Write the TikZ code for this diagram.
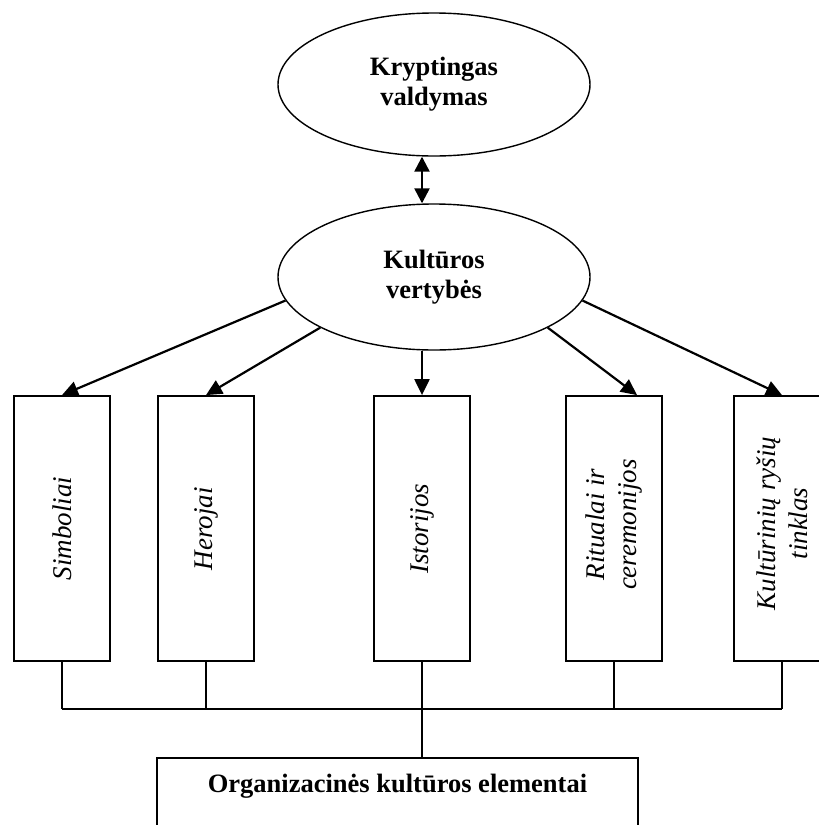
\documentclass[tikz,border=0pt]{standalone}
\usepackage{fontspec}
\setmainfont{Liberation Serif}
\usetikzlibrary{arrows.meta,shapes.geometric}

\begin{document}
\begin{tikzpicture}[x=1pt,y=-1pt,
	oval/.style={ellipse,draw,line width=1.4pt,minimum width=312pt,inner sep=0pt,align=center,font=\fontsize{26.5}{30}\selectfont\bfseries},
	elbox/.style={draw,line width=1.8pt,minimum width=96pt,minimum height=265pt,inner sep=0pt},
	eltext/.style={rotate=90,align=center,inner sep=0pt,font=\fontsize{27}{32}\selectfont\itshape},
	arr/.style={line width=2.2pt,-{Triangle[length=16pt,width=15pt]}},
	dblarr/.style={line width=2.4pt,{Triangle[length=15pt,width=15pt]}-{Triangle[length=15pt,width=15pt]}},
	bus/.style={line width=1.3pt}]
				\clip (0,0) rectangle (819,825);
				\node[oval,minimum height=143pt] (kv) at (434,84.5) {Kryptingas\\valdymas};
				\node[oval,minimum height=146pt] (vals) at (434,277) {Kultūros\\vertybės};
				\node[elbox,label={[eltext]center:Simboliai}] (sim) at (62,528.5) {};
				\node[elbox,label={[eltext]center:Herojai}] (her) at (206,528.5) {};
				\node[elbox,label={[eltext]center:Istorijos}] (ist) at (422,528.5) {};
				\node[elbox,label={[eltext,xshift=4pt]center:Ritualai ir\\ceremonijos}] (rit) at (614,528.5) {};
				\node[elbox,label={[eltext,xshift=5pt]center:Kultūrinių ryšių\\tinklas}] (tin) at (782,528.5) {};
				\node[draw,line width=1.8pt,anchor=north,inner sep=0pt,minimum width=481pt,text height=35pt,text depth=60pt,font=\fontsize{26.5}{30}\selectfont\bfseries] (elem) at (397.5,757) {Organizacinės kultūros elementai};
				\coordinate (bus) at (0,709);
				\draw[dblarr] (kv.south -| ist.north) -- (vals.north -| ist.north);
				\draw[arr] (vals.189) -- (sim.north);
				\draw[arr] (vals.204) -- (her.north);
				\draw[arr] (vals.south -| ist.north) -- (ist.north);
				\draw[arr] (vals.336) -- ([xshift=23pt]rit.north);
				\draw[arr] (vals.351) -- (tin.north);
				\foreach \b in {sim,her,ist,rit,tin}
					\draw[bus] (\b.south) -- (\b.south |- bus);
				\draw[bus] (sim.south |- bus) -- (tin.south |- bus);
				\draw[bus] (ist.south |- bus) -- (ist.south |- elem.north);
\end{tikzpicture}
\end{document}
